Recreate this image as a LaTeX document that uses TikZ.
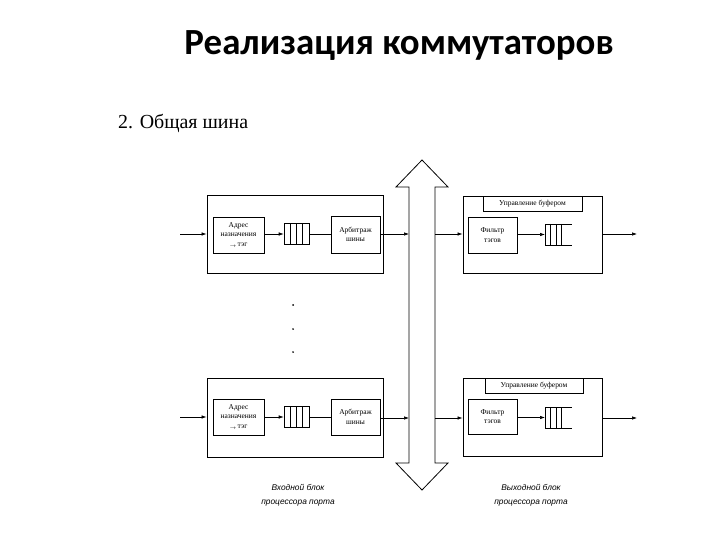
\documentclass[tikz,border=0pt]{standalone}
\usepackage{fontspec}
\setmainfont{Liberation Serif}
\setsansfont{Liberation Sans}
\newfontfamily\titlefont{Carlito}
\usetikzlibrary{arrows.meta}
\tikzset{
  blk/.style={draw,line width=0.9pt,inner sep=0pt},
  sub/.style={draw,line width=0.7pt,inner sep=0pt,align=center,font=\fontsize{7.5}{9.5}\selectfont},
  hdr/.style={draw,line width=0.7pt,inner sep=0pt,font=\fontsize{7.5}{9}\selectfont},
  ar/.style={line width=0.6pt,-{Latex[length=5pt,width=3.5pt]}},
  ln/.style={line width=0.6pt},
  bus/.style={line width=0.8pt,line join=miter},
  dotmark/.style={circle,fill,inner sep=0pt,minimum size=2pt},
  lbl/.style={align=center,font=\sffamily\itshape\fontsize{8.4}{14}\selectfont}
}
\newcommand{\tagline}{\raisebox{-1.5pt}{$\scriptstyle\rightarrow$}\,тэг}

\begin{document}
\begin{tikzpicture}[x=1bp,y=-1bp]
\useasboundingbox (0,0) rectangle (720,540);
\node[anchor=base] (title) at (399,55) {\titlefont\bfseries\fontsize{37}{44}\selectfont Реализация коммутаторов};
\node[anchor=base west,inner sep=0pt] (sub) at (118,129) {\fontsize{20}{24}\selectfont 2. Общая шина};

% common bus
\draw[bus] (409,463) -- (409,187) -- (396,187) -- (422,160) -- (448,187) -- (435,187)
  -- (435,463) -- (448,463) -- (422,490) -- (396,463) -- cycle;
\coordinate (busla) at (409,234); \coordinate (busra) at (435,234);
\coordinate (buslb) at (409,418); \coordinate (busrb) at (435,418);

% input block, upper
\node[blk,minimum width=176bp,minimum height=78bp] (ina) at (295,234) {};
\node[sub,minimum width=51bp,minimum height=36bp] (adra) at (238.5,235) {Адрес\\назначения\\\tagline};
\node[draw,ln,minimum width=25bp,minimum height=21bp,inner sep=0pt] (qa) at (296.5,234) {};
\foreach \k in {-6.25,0,6.25} \draw[ln] ([xshift=\k bp]qa.north) -- ([xshift=\k bp]qa.south);
\node[sub,minimum width=49bp,minimum height=37bp] (arba) at (355.5,234.5) {Арбитраж\\шины};
\coordinate (srca) at (180,234);
\draw[ar] (srca) -- (ina.west);
\draw[ar] (adra.east |- qa.west) -- (qa.west);
\draw[ln] (qa.east) -- (arba.west |- qa.east);
\draw[ar] (arba.east |- busla) -- (busla);

% input block, lower
\node[blk,minimum width=176bp,minimum height=79bp] (inb) at (295,417.5) {};
\node[sub,minimum width=51bp,minimum height=36bp] (adrb) at (238.5,417) {Адрес\\назначения\\\tagline};
\node[draw,ln,minimum width=25bp,minimum height=21bp,inner sep=0pt] (qb) at (296.5,417) {};
\foreach \k in {-6.25,0,6.25} \draw[ln] ([xshift=\k bp]qb.north) -- ([xshift=\k bp]qb.south);
\node[sub,minimum width=49bp,minimum height=36bp] (arbb) at (355.5,417) {Арбитраж\\шины};
\coordinate (srcb) at (180,417);
\draw[ar] (srcb) -- (inb.west |- srcb);
\draw[ar] (adrb.east |- qb.west) -- (qb.west);
\draw[ln] (qb.east) -- (arbb.west |- qb.east);
\draw[ar] (arbb.east |- buslb) -- (buslb);

\node[dotmark] (d1) at (293,305) {};
\node[dotmark] (d2) at (293,329) {};
\node[dotmark] (d3) at (293,352) {};

% output block, upper
\node[blk,minimum width=139bp,minimum height=77bp] (outa) at (532.5,234.5) {};
\node[hdr,minimum width=99bp,minimum height=15bp,anchor=north] (mgra) at (532.5,196) {Управление буфером};
\node[sub,minimum width=49bp,minimum height=36bp] (fila) at (492.5,235) {Фильтр\\тэгов};
\coordinate (rqa) at (545,234.5);
\draw[line width=1pt] ([yshift=-10.5bp]rqa) -- ([yshift=10.5bp]rqa);
\draw[ln] ([yshift=-10.5bp]rqa) -- +(27,0) ([yshift=10.5bp]rqa) -- +(27,0);
\foreach \k in {5.5,11,16.5} \draw[ln] ([xshift=\k bp,yshift=10.5bp]rqa) -- +(0,21);
\coordinate (dsta) at (637,234);
\draw[ar] (busra) -- (outa.west |- busra);
\draw[ar] (fila.east |- rqa) -- (rqa);
\draw[ar] (outa.east |- dsta) -- (dsta);

% output block, lower
\node[blk,minimum width=139bp,minimum height=78bp] (outb) at (532.5,417) {};
\node[hdr,minimum width=98bp,minimum height=15bp,anchor=north] (mgrb) at (534,378) {Управление буфером};
\node[sub,minimum width=49bp,minimum height=35bp] (filb) at (492.5,416.5) {Фильтр\\тэгов};
\coordinate (rqb) at (545,417.5);
\draw[line width=1pt] ([yshift=-10.5bp]rqb) -- ([yshift=10.5bp]rqb);
\draw[ln] ([yshift=-10.5bp]rqb) -- +(27,0) ([yshift=10.5bp]rqb) -- +(27,0);
\foreach \k in {5.5,11,16.5} \draw[ln] ([xshift=\k bp,yshift=10.5bp]rqb) -- +(0,21);
\coordinate (dstb) at (637,418);
\draw[ar] (busrb) -- (outb.west |- busrb);
\draw[ar] (filb.east |- rqb) -- (rqb);
\draw[ar] (outb.east |- dstb) -- (dstb);

\node[lbl] (capin) at (298,495) {Входной блок\\процессора порта};
\node[lbl] (capout) at (531,495) {Выходной блок\\процессора порта};
\end{tikzpicture}
\end{document}
